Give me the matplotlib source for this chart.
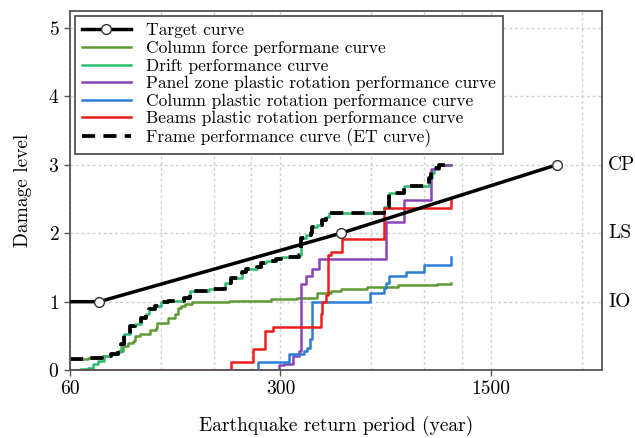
import numpy as np
import matplotlib
matplotlib.use("Agg")
import matplotlib.pyplot as plt
import matplotlib.transforms as mtransforms

plt.rcParams['font.family'] = 'serif'
plt.rcParams['font.serif'] = ['cmr10']
plt.rcParams['mathtext.fontset'] = 'cm'
plt.rcParams['axes.unicode_minus'] = False
plt.rcParams['axes.formatter.use_mathtext'] = True

# return period (year) / damage level for each step curve
force_T = [60, 69, 77, 82, 86.5, 90, 93.5, 97, 99, 102.3, 110.4, 115.5, 117, 126.6, 133.6,
           136.7, 139.8, 144.2, 153, 203, 280, 340, 398, 442, 478, 582, 662, 737, 878, 995, 1100]
force_D = [0.16, 0.18, 0.2, 0.24, 0.28, 0.35, 0.4, 0.43, 0.5, 0.53, 0.59, 0.62, 0.69, 0.76, 0.82,
           0.91, 0.94, 0.97, 1.0, 1.01, 1.04, 1.06, 1.12, 1.16, 1.19, 1.21, 1.22, 1.24, 1.25, 1.26, 1.27]

drift_T = [60, 62, 65, 69, 71.5, 74.5, 78, 82, 86.5, 88.5, 91, 95, 98.5, 103, 107, 110, 115, 120,
           127, 143, 150, 174, 197, 205, 224, 231, 250, 259, 269, 290, 302, 346, 351, 365, 380,
           383, 398, 413, 426, 436, 662, 688, 772, 934, 955, 970, 1008, 1100]
drift_D = [0, 0, 0.02, 0.03, 0.09, 0.13, 0.2, 0.24, 0.26, 0.38, 0.53, 0.65, 0.68, 0.76, 0.82, 0.9,
           0.93, 0.99, 1.01, 1.06, 1.16, 1.19, 1.28, 1.34, 1.43, 1.48, 1.50, 1.56, 1.60, 1.63, 1.65,
           1.68, 1.93, 1.97, 2.01, 2.09, 2.12, 2.19, 2.24, 2.29, 2.38, 2.59, 2.69, 2.81, 2.88, 2.96,
           3.0, 3.0]

panel_T = [60, 297.5, 309, 330, 345, 351, 365, 383, 404, 672, 772, 947, 1008, 1100]
panel_D = [0, 0.07, 0.09, 0.2, 0.28, 1.26, 1.38, 1.48, 1.63, 2.16, 2.49, 2.94, 3.0, 3.0]

colrot_T = [60, 253, 321, 360, 368, 377, 383, 595, 662, 672, 688, 780, 899, 1100]
colrot_D = [0, 0.12, 0.24, 0.28, 0.32, 0.45, 1.0, 1.12, 1.2, 1.28, 1.37, 1.44, 1.54, 1.65]

beam_T = [60, 205, 243, 267, 284, 409, 413, 426, 432, 442, 481, 662, 1100]
beam_D = [0, 0.12, 0.31, 0.57, 0.63, 0.82, 0.99, 1.10, 1.68, 1.72, 1.92, 2.37, 2.51]

target_T = [60, 75, 475, 2475]
target_D = [1, 1, 2, 3]

levels = [1, 2, 3]
level_names = ['IO', 'LS', 'CP']


def step_value(tx, ty, grid):
    tx = np.asarray(tx)
    ty = np.asarray(ty)
    idx = np.searchsorted(tx, grid, side='right') - 1
    return np.where(idx >= 0, ty[np.clip(idx, 0, None)], 0.0)


# frame curve = envelope of all component curves
curves = [(force_T, force_D), (drift_T, drift_D), (panel_T, panel_D),
          (colrot_T, colrot_D), (beam_T, beam_D)]
frame_T = np.unique(np.concatenate([c[0] for c in curves]))
frame_D = np.max([step_value(t, d, frame_T) for t, d in curves], axis=0)

fig = plt.figure(figsize=(6.35, 4.38), dpi=100)
ax = fig.add_axes([0.110, 0.155, 0.838, 0.820])

lw = 1.8
h_force, = ax.plot(force_T, force_D, drawstyle='steps-post', color='#5e9a35', lw=lw)
h_drift, = ax.plot(drift_T, drift_D, drawstyle='steps-post', color='#2dbd6e', lw=lw)
h_panel, = ax.plot(panel_T, panel_D, drawstyle='steps-post', color='#8a44b8', lw=lw)
h_colrot, = ax.plot(colrot_T, colrot_D, drawstyle='steps-post', color='#2a7fd4', lw=lw)
h_beam, = ax.plot(beam_T, beam_D, drawstyle='steps-post', color='#ee1c1c', lw=lw)
h_frame, = ax.plot(frame_T, frame_D, drawstyle='steps-post', color='black', lw=2.7,
                   ls=(0, (3.5, 2.2)))
h_target, = ax.plot(target_T, target_D, color='black', lw=2.5, marker='o', markevery=[1, 2, 3],
                    ms=7, mfc='white', mec='#333333', mew=1.0, zorder=5)

ax.set_xscale('log')
ax.set_xlim(60, 3500)
ax.set_ylim(0, 5.25)
ax.set_xticks([60, 300, 1500])
ax.set_xticklabels(['60', '300', '1500'])
ax.set_xticks([120, 180, 240, 600, 900, 1200, 3000], minor=True)
ax.xaxis.set_minor_formatter(matplotlib.ticker.NullFormatter())
ax.set_yticks([0, 1, 2, 3, 4, 5])
ax.tick_params(axis='both', which='major', direction='out', length=4, width=1,
               color='#555555', labelsize=14)
ax.tick_params(axis='x', which='minor', length=0)
ax.tick_params(axis='x', pad=3)
ax.grid(True, which='both', color='#cfcfcf', ls=(0, (2, 2)), lw=1.0)
ax.set_axisbelow(True)
for s in ax.spines.values():
    s.set_color('#555555')
    s.set_linewidth(1.3)

ax.set_xlabel('Earthquake return period (year)', fontsize=14, labelpad=13)
ax.set_ylabel('Damage level', fontsize=14, labelpad=12)

trans = mtransforms.blended_transform_factory(ax.transAxes, ax.transData)
for lv, name in zip(levels, level_names):
    ax.text(1.012, lv, name, transform=trans, fontsize=14, va='center', ha='left')

leg = ax.legend([h_target, h_force, h_drift, h_panel, h_colrot, h_beam, h_frame],
                ['Target curve', 'Column force performane curve', 'Drift performance curve',
                 'Panel zone plastic rotation performance curve',
                 'Column plastic rotation performance curve',
                 'Beams plastic rotation performance curve',
                 'Frame performance curve (ET curve)'],
                loc='upper left', fontsize=12.5, fancybox=False, framealpha=1,
                edgecolor='#444444', borderaxespad=0.3, handlelength=2.8,
                handletextpad=0.9, labelspacing=0.13, borderpad=0.4, numpoints=1)
leg.get_frame().set_linewidth(1.2)
leg.set_zorder(10)

fig.savefig('out.png', dpi=100)
